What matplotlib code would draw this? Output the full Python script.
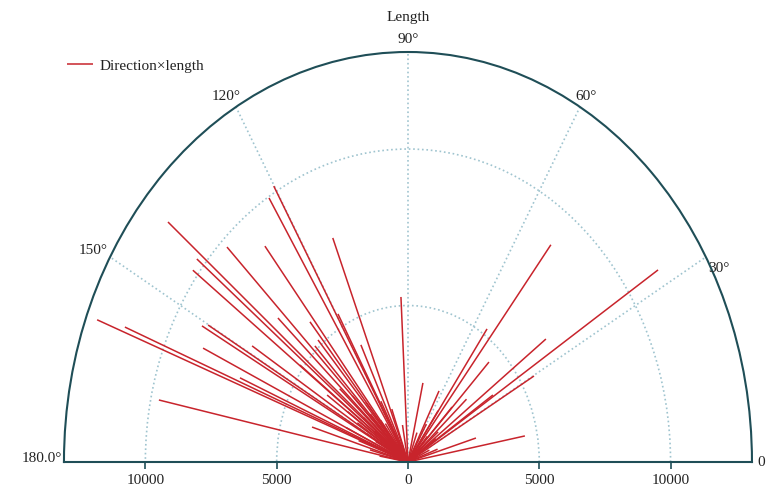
import numpy as np
import matplotlib
matplotlib.use('Agg')
import matplotlib.pyplot as plt

# direction (degrees) and length of each segment
angles = [51.9, 32.8, 36.8, 54.7, 46.0, 29.8, 77.3, 62.5, 46.3, 10.6, 16.5, 92.9, 33.5,
          40.0, 55.0, 20.0, 70.0, 42.0, 25.0, 35.0, 48.0, 60.0,
          120.1, 122.1, 111.8, 128.3, 140.0, 135.1, 141.1, 143.2, 159.0, 158.2, 151.0,
          150.1, 155.0, 168.2, 148.0, 137.1, 129.8, 119.4, 131.3, 157.2, 163.0, 115.6,
          143.0, 145.2, 133.7,
          130.0, 140.0, 150.0, 155.0, 160.0, 135.0, 125.0, 145.0, 110.0, 100.0, 165.0, 138.0,
          128.0, 133.0, 142.0, 147.0, 152.0, 158.0, 118.0, 170.0]
lengths = [8820, 11330, 6560, 5210, 4440, 5530, 2590, 2560, 2430, 4530, 2700, 5280, 3880,
           1500, 2000, 1200, 1000, 3000, 900, 1300, 1100, 1400,
           10190, 9960, 7710, 8790, 11930, 9730, 10330, 10230, 12680, 11610, 8970,
           8780, 8610, 9690, 7000, 6760, 5830, 5430, 5190, 6940, 3820, 4150,
           5150, 3750, 5130,
           2500, 2200, 1800, 2600, 2000, 3000, 1500, 2800, 1800, 1200, 1500, 3500,
           1700, 2100, 1600, 2300, 1400, 1900, 2200, 1100]

theta_ticks = [0, 30, 60, 90, 120, 150, 180]
theta_labels = ['0', '30°', '60°', '90°', '120°', '150°', '180.0°']
r_ticks = [5000, 10000]
r_max = 13100

plt.rcParams['font.family'] = ['Liberation Serif', 'DejaVu Serif']
TXT = '#222222'
EDGE = '#1f4e57'
GRID = '#9fc4cf'
RED = '#c8242c'

fig = plt.figure(figsize=(7.67, 4.95), dpi=100)
# wedge box of a half polar plot is padded to a square, so the axes is twice as tall
ax = fig.add_axes([0.0834, -0.3475, 0.897, 1.6566], projection='polar')
ax.set_aspect('auto')
ax.set_thetamin(0)
ax.set_thetamax(180)
ax.set_rlim(0, r_max)

ax.vlines(np.deg2rad(angles), 0, lengths, color=RED, lw=1.1, label='Direction×length')

ax.set_xticks(np.deg2rad(theta_ticks[1:-1]))
ax.set_xticklabels([])
ax.set_rticks(r_ticks)
ax.set_yticklabels([])
ax.tick_params(length=0)
ax.grid(True, color=GRID, ls=':', lw=1.2)
for name, sp in ax.spines.items():
    sp.set_color(EDGE)
    sp.set_linewidth(1.5)

# angle labels round the arc
lab_pos = {0: (5, 0, 'left', 'center'), 30: (2, -5, 'left', 'top'),
           60: (-5, 4, 'left', 'bottom'), 90: (0, 6, 'center', 'bottom'),
           120: (5, 4, 'right', 'bottom'), 150: (-2, 0, 'right', 'bottom'),
           180: (-2, 4, 'right', 'center')}
for t, lab in zip(theta_ticks, theta_labels):
    dx, dy, ha, va = lab_pos[t]
    ax.annotate(lab, (np.deg2rad(t), r_max), xytext=(dx, dy), textcoords='offset pixels',
                ha=ha, va=va, fontsize=11, color=TXT, annotation_clip=False)
ax.annotate('Length', (np.pi / 2, r_max), xytext=(0, 28), textcoords='offset pixels',
            ha='center', va='bottom', fontsize=11, color=TXT, annotation_clip=False)

# length labels under the base line
for th in [0, np.pi]:
    for r in r_ticks:
        ax.annotate(f'{r}', (th, r), xytext=(0, -12), textcoords='offset pixels',
                    ha='center', va='top', fontsize=11, color=TXT, annotation_clip=False)
    ax.plot([th] * len(r_ticks), r_ticks, ls='none', marker=3, ms=5, mew=1.2,
            color=EDGE, clip_on=False)
ax.annotate('0', (0, 0), xytext=(0, -12), textcoords='offset pixels',
            ha='center', va='top', fontsize=11, color=TXT, annotation_clip=False)
ax.plot([0], [0], ls='none', marker=3, ms=5, mew=1.2, color=EDGE, clip_on=False)

fig.legend(loc='center left', bbox_to_anchor=(0.087, 0.867), frameon=False,
           borderpad=0, borderaxespad=0, handlelength=1.7, handletextpad=0.45,
           fontsize=11, labelcolor=TXT)

fig.savefig('out.png', dpi=100, facecolor='white')
